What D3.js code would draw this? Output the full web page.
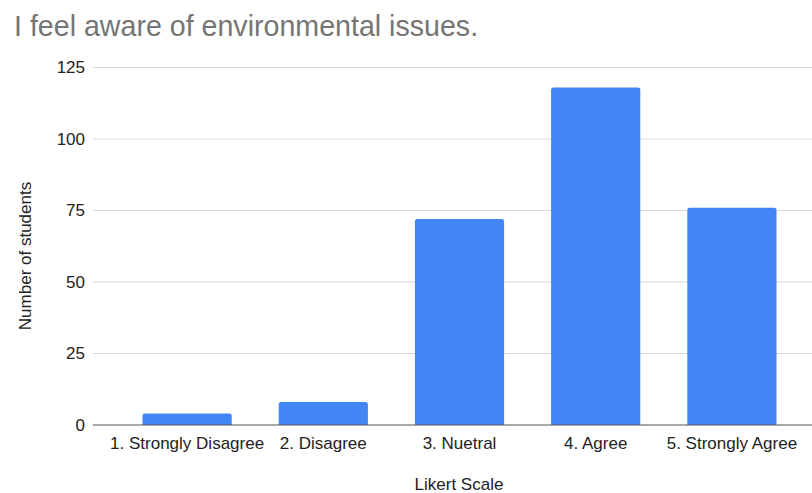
<!DOCTYPE html>
<html>
<head>
<meta charset="utf-8">
<script src="https://cdn.jsdelivr.net/npm/d3@7"></script>
<style>
  html, body { margin: 0; padding: 0; background: #fff; }
  svg { display: block; font-family: "Liberation Sans", Arial, sans-serif; }
</style>
</head>
<body>
<svg id="chart" width="812" height="493"></svg>
<script>
const categories = ["1. Strongly Disagree", "2. Disagree", "3. Nuetral", "4. Agree", "5. Strongly Agree"];
const counts = [4, 8, 72, 118, 76];
const yTicks = [0, 25, 50, 75, 100, 125];

const svg = d3.select("#chart");
const FONT = "Liberation Sans, Arial, sans-serif";

const gridLeft = 93, gridRight = 812;
const y = d3.scaleLinear().domain([0, 125]).range([425, 67.5]);
const x = d3.scaleBand().domain(categories).range([119, 800]).paddingInner(0.345).paddingOuter(0.1725);

// Title
svg.append("text")
  .attr("x", 14).attr("y", 36)
  .attr("fill", "#757575")
  .attr("font-size", 28.6)
  .text("I feel aware of environmental issues.");

// Horizontal gridlines
svg.append("g").selectAll("line")
  .data(yTicks.filter(d => d > 0))
  .join("line")
  .attr("x1", gridLeft).attr("x2", gridRight)
  .attr("y1", d => y(d)).attr("y2", d => y(d))
  .attr("stroke", "#d9d9d9").attr("stroke-width", 1);

// Y axis tick labels
const yAxis = d3.axisLeft(y).tickValues(yTicks).tickSize(0).tickPadding(0);
const gy = svg.append("g").attr("transform", "translate(85,0)").call(yAxis);
gy.select(".domain").remove();
gy.selectAll("text").attr("fill", "#222").attr("font-size", 17)
  .attr("font-family", FONT);

// Bars with slightly rounded tops
const r = 2.5;
svg.append("g").selectAll("path")
  .data(categories.map((c, i) => ({ c, v: counts[i] })))
  .join("path")
  .attr("fill", "#4285f4")
  .attr("d", d => {
    const x0 = x(d.c), x1 = x0 + x.bandwidth();
    const top = y(d.v), base = y(0);
    return `M${x0},${base} V${top + r} Q${x0},${top} ${x0 + r},${top} H${x1 - r} Q${x1},${top} ${x1},${top + r} V${base} Z`;
  });

// Baseline
svg.append("line")
  .attr("x1", gridLeft).attr("x2", gridRight)
  .attr("y1", y(0)).attr("y2", y(0))
  .attr("stroke", "#555").attr("stroke-width", 1.2);

// X axis category labels
const xAxis = d3.axisBottom(x).tickSize(0).tickPadding(0);
const gx = svg.append("g").attr("transform", `translate(0,${y(0) + 23.5})`).call(xAxis);
gx.select(".domain").remove();
gx.selectAll("text").attr("fill", "#222").attr("font-size", 17)
  .attr("font-family", FONT)
  .attr("dy", 0);

// Axis titles
svg.append("text")
  .attr("x", 459).attr("y", 490)
  .attr("text-anchor", "middle")
  .attr("fill", "#222").attr("font-size", 17)
  .text("Likert Scale");

svg.append("text")
  .attr("transform", "translate(31,256) rotate(-90)")
  .attr("text-anchor", "middle")
  .attr("fill", "#222").attr("font-size", 17)
  .text("Number of students");
</script>
</body>
</html>
